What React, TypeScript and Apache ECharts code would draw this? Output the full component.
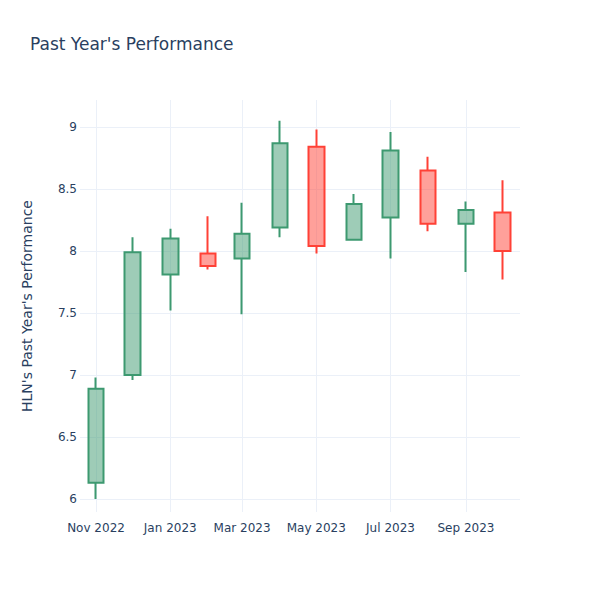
import React, { useEffect, useRef } from "react";
import * as echarts from "echarts";

// Monthly candles (first day of each month, UTC)
const months: [number, number][] = [
  [2022, 10], [2022, 11], [2023, 0], [2023, 1], [2023, 2], [2023, 3],
  [2023, 4], [2023, 5], [2023, 6], [2023, 7], [2023, 8], [2023, 9],
];
const opens = [6.13, 7.0, 7.81, 7.98, 7.94, 8.19, 8.84, 8.09, 8.27, 8.65, 8.22, 8.31];
const closes = [6.89, 7.99, 8.1, 7.88, 8.14, 8.87, 8.04, 8.38, 8.81, 8.22, 8.33, 8.0];
const lows = [6.0, 6.96, 7.52, 7.85, 7.49, 8.11, 7.98, 8.09, 7.94, 8.16, 7.83, 7.77];
const highs = [6.98, 8.11, 8.18, 8.28, 8.39, 9.05, 8.98, 8.46, 8.96, 8.76, 8.4, 8.57];

const xTickMonths: [number, number][] = [
  [2022, 10], [2023, 0], [2023, 2], [2023, 4], [2023, 6], [2023, 8],
];
const yTicks = [6, 6.5, 7, 7.5, 8, 8.5, 9];
const monthNames = ["Jan", "Feb", "Mar", "Apr", "May", "Jun", "Jul", "Aug", "Sep", "Oct", "Nov", "Dec"];

const title = "Past Year's Performance";
const yName = "HLN's Past Year's Performance";

const FONT = '"DejaVu Sans", verdana, arial, sans-serif';
const TEXT = "#2a3f5f";
const GRID = "#EBF0F8";

export default function App() {
  const ref = useRef<HTMLDivElement>(null);
  useEffect(() => {
    if (!ref.current) return;
    const chart = echarts.init(ref.current, undefined, { renderer: "svg" });
    const data = months.map(([y, m], i) => [Date.UTC(y, m, 1), opens[i], closes[i], lows[i], highs[i]]);
    const xTicks = xTickMonths.map(([y, m]) => Date.UTC(y, m, 1));
    chart.setOption({
      animation: false,
      backgroundColor: "#fff",
      textStyle: { fontFamily: FONT },
      title: {
        text: title,
        left: 25,
        top: 30,
        textStyle: { fontFamily: FONT, fontSize: 17, fontWeight: "normal", color: TEXT },
      },
      grid: { left: 80, right: 80, top: 100, bottom: 88, containLabel: false },
      xAxis: {
        type: "value",
        min: Date.UTC(2022, 9, 18, 20),
        max: Date.UTC(2023, 9, 15, 10),
        scale: true,
        axisLine: { show: false },
        axisTick: { show: false, customValues: xTicks },
        axisLabel: {
          customValues: xTicks,
          color: TEXT,
          fontSize: 12,
          fontFamily: FONT,
          margin: 10,
          formatter: (v: number) => {
            const d = new Date(v);
            return monthNames[d.getUTCMonth()] + " " + d.getUTCFullYear();
          },
        },
        splitLine: { show: true, lineStyle: { color: GRID, width: 1 } },
      },
      yAxis: {
        type: "value",
        min: 5.895,
        max: 9.218,
        name: yName,
        nameLocation: "middle",
        nameGap: 46,
        nameTextStyle: { color: TEXT, fontSize: 14, fontFamily: FONT },
        axisLine: { show: false },
        axisTick: { show: false, customValues: yTicks },
        axisLabel: {
          customValues: yTicks,
          color: TEXT,
          fontSize: 12,
          fontFamily: FONT,
          margin: 3,
        },
        splitLine: { show: true, lineStyle: { color: GRID, width: 1 } },
      },
      series: [
        {
          type: "candlestick",
          data,
          encode: { x: 0, y: [1, 2, 3, 4] },
          barWidth: 16,
          itemStyle: {
            color: "rgba(61,153,112,0.5)",
            color0: "rgba(255,65,54,0.5)",
            borderColor: "#3D9970",
            borderColor0: "#FF4136",
            borderWidth: 2,
          },
        },
      ],
    });
    return () => chart.dispose();
  }, []);
  return (
    <div
      ref={ref}
      style={{ width: 600, height: 600, position: "absolute", left: 0, top: 0 }}
    />
  );
}
